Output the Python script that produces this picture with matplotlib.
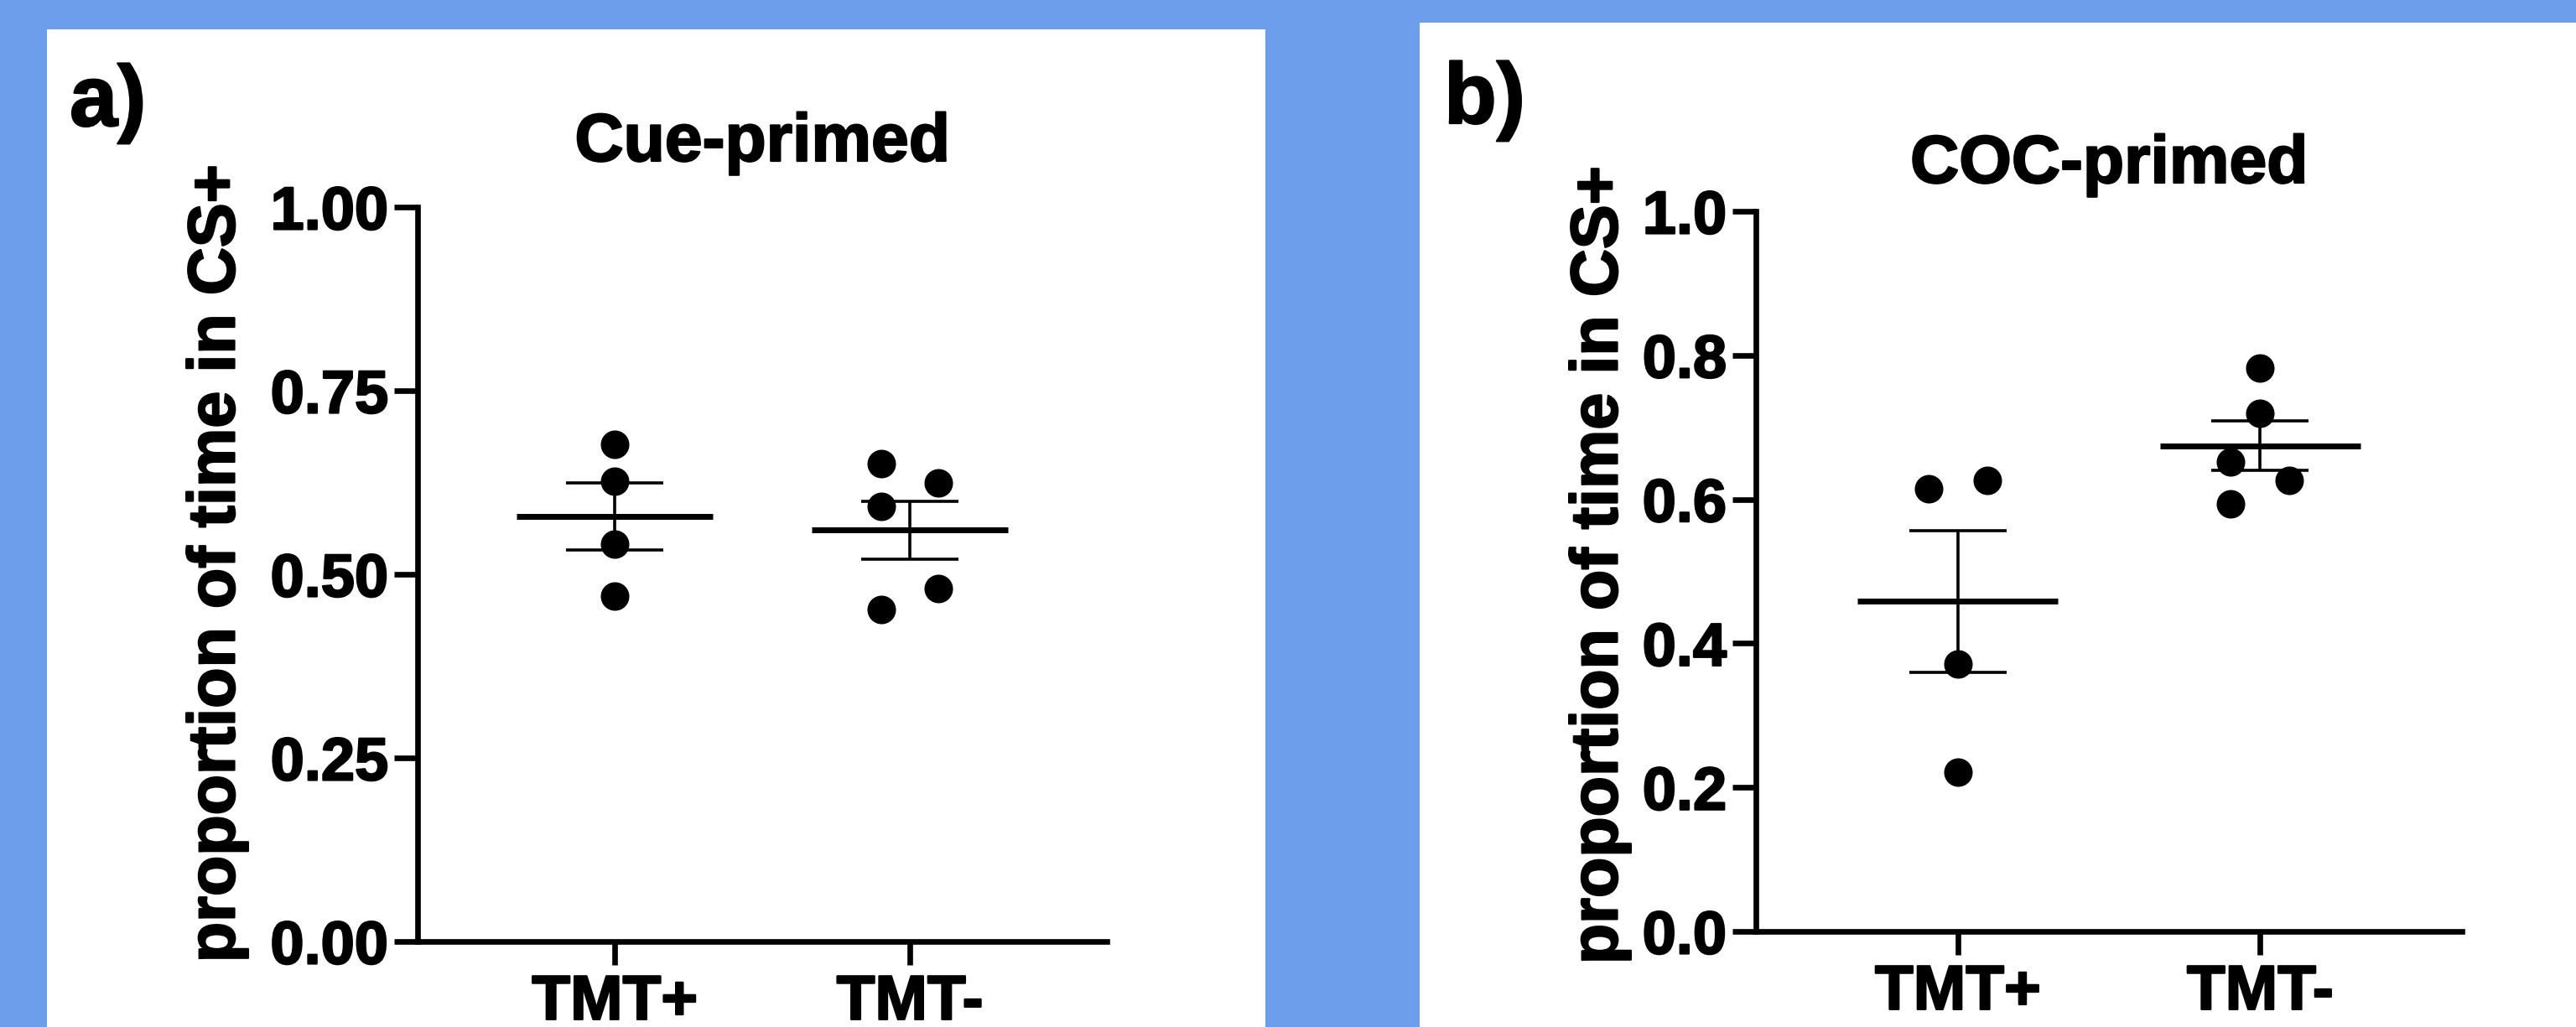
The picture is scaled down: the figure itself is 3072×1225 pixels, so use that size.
import numpy as np
import matplotlib
matplotlib.use('Agg')
from matplotlib import pyplot as plt
from matplotlib.patches import Rectangle
import matplotlib.patheffects as pe

# values (proportion of time in CS+)
groups = ['TMT+', 'TMT-']
cue_tmt_pos = [0.677, 0.627, 0.541, 0.470]
cue_tmt_neg = [0.651, 0.625, 0.592, 0.481, 0.452]
coc_tmt_pos = [0.615, 0.626, 0.371, 0.221]
coc_tmt_neg = [0.782, 0.719, 0.652, 0.626, 0.594]

cue_ticks = [0.0, 0.25, 0.5, 0.75, 1.0]
cue_ticklabels = ['0.00', '0.25', '0.50', '0.75', '1.00']
coc_ticks = [0.0, 0.2, 0.4, 0.6, 0.8, 1.0]
coc_ticklabels = ['0.0', '0.2', '0.4', '0.6', '0.8', '1.0']

# horizontal spread of the dots (layout only, in units of dot spacing)
cue_spread = [[0, 0, 0, 0], [-1, 1, -1, 1, -1]]
coc_spread = [[-1, 1, 0, 0], [0, 0, -1, 1, -1]]

W, H = 3072, 1225
BLUE = '#6d9eeb'
BOLDER = [pe.withStroke(linewidth=1.6, foreground='black')]

plt.rcParams['font.family'] = ['Liberation Sans', 'DejaVu Sans']
plt.rcParams['font.weight'] = 'bold'


def fx(px):
    return px / W


def fy(px):
    return 1 - px / H


def add_panel(fig, box):
    x0, y0, x1, y1 = box
    fig.patches.append(Rectangle((fx(x0), fy(y1)), fx(x1 - x0), fy(y0) - fy(y1),
                                 transform=fig.transFigure, facecolor='white',
                                 edgecolor='none', zorder=-5))


def scatter_panel(ax, data, spread, ticks, ticklabels):
    for i, vals in enumerate(data):
        vals = np.array(vals)
        xs = i + 0.097 * np.array(spread[i])
        ax.plot(xs, vals, 'o', color='black', markersize=23.5, zorder=3,
                clip_on=False)
        mean = vals.mean()
        sem = vals.std(ddof=1) / np.sqrt(len(vals))
        ax.hlines(mean, i - 0.332, i + 0.332, color='black', linewidth=5, zorder=4)
        ax.errorbar(i, mean, yerr=sem, color='black', elinewidth=2.6,
                    capsize=42, capthick=2.6, zorder=4)

    ax.set_xlim(-0.668, 1.668)
    ax.set_ylim(0, 1)
    ax.set_xticks(range(len(groups)))
    ax.set_xticklabels(groups)
    ax.set_yticks(ticks)
    ax.set_yticklabels(ticklabels)
    ax.patch.set_alpha(0)
    ax.spines['top'].set_visible(False)
    ax.spines['right'].set_visible(False)
    for side in ['left', 'bottom']:
        ax.spines[side].set_linewidth(4.8)
        ax.spines[side].set_capstyle('projecting')
    ax.tick_params(axis='both', length=20, width=4.8)
    ax.tick_params(axis='y', pad=5, labelsize=52)
    ax.tick_params(axis='x', pad=8, labelsize=54)
    for lab in ax.get_xticklabels() + ax.get_yticklabels():
        lab.set_fontweight('bold')
        lab.set_path_effects(BOLDER)


def label(fig, x, y, s, size, **kw):
    t = fig.text(fx(x), fy(y), s, fontsize=size, fontweight='bold', **kw)
    t.set_path_effects(BOLDER)
    return t


fig = plt.figure(figsize=(W / 100, H / 100), dpi=100)
fig.patch.set_facecolor(BLUE)
add_panel(fig, (56, 35, 1509, H))
add_panel(fig, (1693, 27, W, H))

ax_a = fig.add_axes([fx(498), fy(1123), fx(1320 - 498), fy(247) - fy(1123)])
ax_b = fig.add_axes([fx(2094), fy(1111), fx(2936 - 2094), fy(252) - fy(1111)])

scatter_panel(ax_a, [cue_tmt_pos, cue_tmt_neg], cue_spread, cue_ticks, cue_ticklabels)
scatter_panel(ax_b, [coc_tmt_pos, coc_tmt_neg], coc_spread, coc_ticks, coc_ticklabels)

label(fig, 909, 192, 'Cue-primed', 58, ha='center', va='baseline')
label(fig, 2515, 218, 'COC-primed', 58, ha='center', va='baseline')

label(fig, 259, 672, 'proportion of time in CS+', 57, rotation=90,
      ha='center', va='center')
label(fig, 1908, 674, 'proportion of time in CS+', 57, rotation=90,
      ha='center', va='center')

label(fig, 83, 150, 'a)', 74, ha='left', va='baseline')
label(fig, 1722, 147, 'b)', 74, ha='left', va='baseline')

fig.savefig('out.png', dpi=100, facecolor=fig.get_facecolor())
